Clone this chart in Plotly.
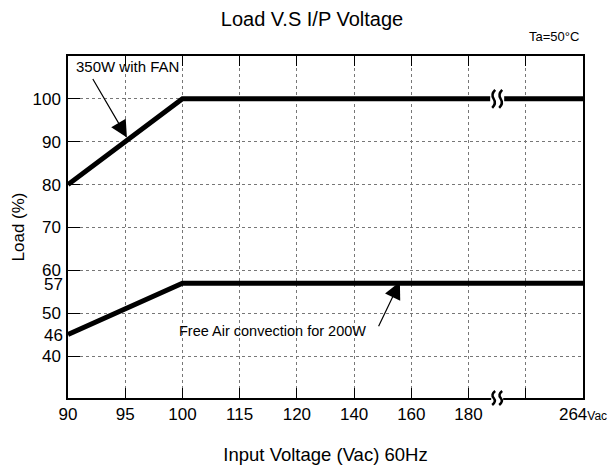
import plotly.graph_objects as go

# x categories (evenly spaced on the chart)
x_categories = ["90", "95", "100", "115", "120", "140", "160", "180", "", "264"]
x_tick_text = ["90", "95", "100", "115", "120", "140", "160", "180", "",
               "264<span style='font-size:12px'>Vac</span>"]

# series
fan_x = ["90", "100", "264"]
fan_load = [80, 100, 100]
free_x = ["90", "100", "264"]
free_load = [45, 57, 57]

y_tick_vals = [40, 50, 60, 70, 80, 90, 100]
y_extra_vals = [57, 45]
y_extra_text = ["57", "46"]

def idx(c):
    return x_categories.index(c)

FONT = "Liberation Sans, Arial, sans-serif"
W, H = 608, 462  # page body has an 8px default margin

fig = go.Figure()
fig.add_trace(go.Scatter(x=[idx(c) for c in fan_x], y=fan_load, mode="lines",
                         line=dict(color="black", width=5), showlegend=False,
                         hoverinfo="skip"))
fig.add_trace(go.Scatter(x=[idx(c) for c in free_x], y=free_load, mode="lines",
                         line=dict(color="black", width=5), showlegend=False,
                         hoverinfo="skip"))

fig.update_layout(
    width=W, height=H,
    margin=dict(l=60, r=33, t=48, b=72),
    paper_bgcolor="white", plot_bgcolor="white",
    font=dict(family=FONT, color="black", size=17),
    title=dict(text="Load V.S I/P Voltage", x=0.5, xanchor="center",
               y=1 - 11 / H, yanchor="middle", font=dict(size=20)),
    xaxis=dict(range=[0, 9], tickmode="array", tickvals=list(range(10)),
               ticktext=x_tick_text, ticks="inside", ticklen=10, tickcolor="black",
               showline=True, linecolor="black", linewidth=1.5, mirror="ticks",
               showgrid=True, gridcolor="#777", griddash="dot", gridwidth=1,
               zeroline=False, tickfont=dict(size=17), automargin=False,
               title=dict(text="Input Voltage (Vac) 60Hz", font=dict(size=18.5),
                          standoff=25)),
    yaxis=dict(range=[30.2, 110], tickmode="array", tickvals=y_tick_vals,
               ticks="inside", ticklen=12, tickcolor="black",
               showline=True, linecolor="black", linewidth=1.5, mirror=True,
               showgrid=True, gridcolor="#777", griddash="dot", gridwidth=1,
               zeroline=False, tickfont=dict(size=17), automargin=False,
               ticklabelstandoff=2,
               title=dict(text="Load (%)", font=dict(size=17), standoff=4)),
)

annotations = []
for v, t in zip(y_extra_vals, y_extra_text):
    annotations.append(dict(x=0, xref="paper", y=v, yref="y", text=t, showarrow=False,
                            xanchor="right", xshift=-3, yshift=-1, font=dict(size=17)))

annotations += [
    dict(x=0.012, xref="paper", y=1, yref="paper", yshift=-10, text="350W with FAN",
         showarrow=False, xanchor="left", yanchor="middle", font=dict(size=15)),
    dict(x=1.03, y=91, xref="x", yref="y", text="", showarrow=True, ax=-35, ay=-60,
         arrowhead=2, arrowsize=2.8, arrowwidth=1.2, arrowcolor="black"),
    dict(x=3.58, y=45.8, xref="x", yref="y", text="Free Air convection for 200W",
         showarrow=False, font=dict(size=14.5)),
    dict(x=5.8, y=57.3, xref="x", yref="y", text="", showarrow=True, ax=-22, ay=46,
         arrowhead=2, arrowsize=2.8, arrowwidth=1.2, arrowcolor="black"),
    dict(x=1, xref="paper", y=1, yref="paper", yshift=10, text="Ta=50°C",
         showarrow=False, xanchor="right", xshift=-2, yanchor="bottom",
         font=dict(size=13)),
]
fig.update_layout(annotations=annotations)

# break marks (decorative, pixel-sized, anchored on the data point / axis)
def break_shapes(xa, ya, yref, h, gap_w, gap_h):
    shapes = [dict(type="rect", xref="x", yref=yref, xsizemode="pixel", ysizemode="pixel",
                   xanchor=xa, yanchor=ya, x0=-gap_w, x1=gap_w, y0=-gap_h, y1=gap_h,
                   fillcolor="white", line=dict(width=0), layer="above")]
    for dx in (-3.5, 3.5):
        path = (f"M {dx+1.5},{h} Q {dx-3},{h/2} {dx},0 Q {dx+3},{-h/2} {dx-1.5},{-h}")
        shapes.append(dict(type="path", xref="x", yref=yref, xsizemode="pixel",
                           ysizemode="pixel", xanchor=xa, yanchor=ya, path=path,
                           line=dict(color="black", width=2.5), layer="above"))
    return shapes

shapes = break_shapes(7.5, 100, "y", 9, 7, 3.5) + break_shapes(7.5, 0, "paper", 7, 6, 2)
fig.update_layout(shapes=shapes)

fig.write_html("out.html")
